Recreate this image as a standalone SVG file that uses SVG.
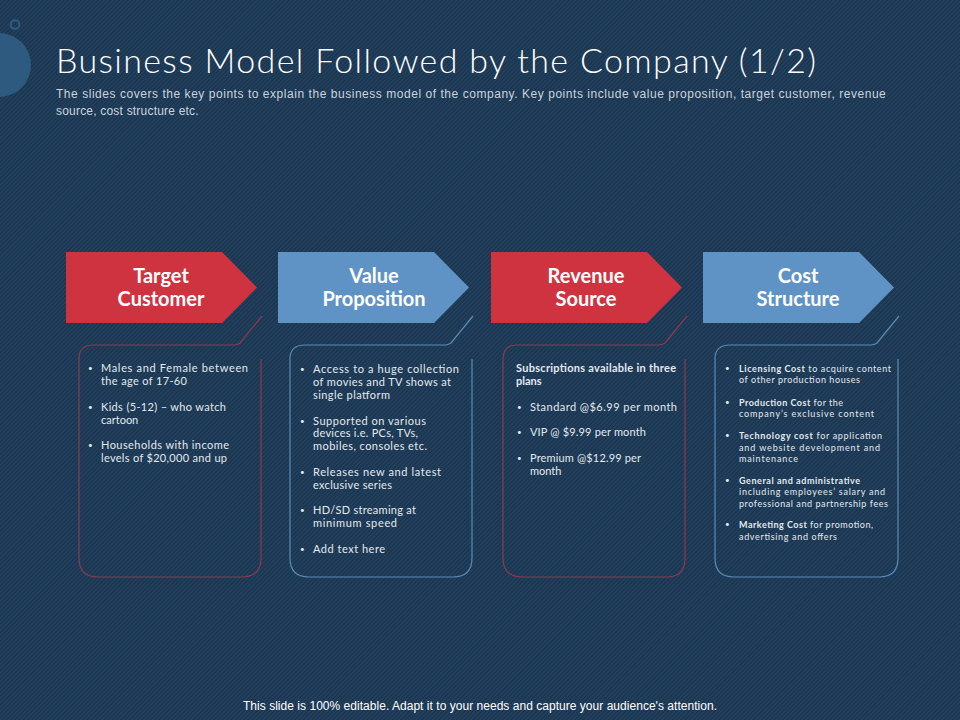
<svg xmlns="http://www.w3.org/2000/svg" width="960" height="720" viewBox="0 0 960 720">
<defs>
<pattern id="hatch" width="3" height="3" patternUnits="userSpaceOnUse" patternTransform="rotate(-45)">
<rect width="3" height="3" fill="#21405e"/>
<rect width="3" height="1" fill="#1a3149"/>
</pattern>
</defs>
<style>
text{font-family:"Lato","Liberation Sans",sans-serif;fill:#e3e9ee}
.t{font-size:34px;font-weight:300;fill:#fff}
.s{font-family:"Liberation Sans",Arial,sans-serif;font-size:12px;fill:#c9d3dc;letter-spacing:.2px}
.h{font-size:20px;font-weight:700;fill:#fff;text-anchor:middle}
.b{font-size:11px}
.c{font-size:9px}
.bold{font-weight:700}
.d{font-size:8px}
.red{fill:none;stroke:#8a3a50;stroke-width:1.2}
.blue{fill:none;stroke:#5a8ab8;stroke-width:1.2}
.f{font-family:"Liberation Sans",Arial,sans-serif;font-size:12px;fill:#fff}
</style>
<rect width="960" height="720" fill="url(#hatch)"/>
<circle cx="-1" cy="65" r="32" fill="#2e5a80"/>
<circle cx="15" cy="24.500" r="4.300" fill="none" stroke="#2e5a80" stroke-width="2.200"/>
<text class="t" x="56" y="73" textLength="760">Business Model Followed by the Company (1/2)</text>
<text class="s" x="56" y="98" textLength="830">The slides covers the key points to explain the business model of the company. Key points include value proposition, target customer, revenue</text>
<text class="s" x="56" y="115">source, cost structure etc.</text>
<g id="connectors">
<path class="red" d="M262 316L240 343Q237 345 234 345H93Q79 345 79 359V558Q79 577 98 577H242Q261 577 261 558V359"/>
<path class="blue" d="M473 316L451 343Q448 345 445 345H305Q290 345 290 359V558Q290 577 309 577H453Q472 577 472 558V359"/>
<path class="red" d="M687 316L665 343Q662 345 659 345H517Q503 345 503 359V558Q503 577 522 577H667Q685 577 685 558V359"/>
<path class="blue" d="M899 316L877 343Q874 345 871 345H730Q715 345 715 359V558Q715 577 734 577H879Q898 577 898 558V359"/>
</g>
<g id="node-target">
<polygon points="66,252 222,252 257,287.500 222,323 66,323" fill="#d03340"/>
<text class="h"><tspan x="161" y="283">Target</tspan><tspan x="161" y="306">Customer</tspan></text>
<g class="b">
<text class="d" x="88" y="371">•</text><text x="101" y="372" textLength="147">Males and Female between</text><text x="101" y="385" textLength="86">the age of 17-60</text>
<text class="d" x="88" y="410">•</text><text x="101" y="411" textLength="125">Kids (5-12) – who watch</text><text x="101" y="424">cartoon</text>
<text class="d" x="88" y="448">•</text><text x="101" y="449" textLength="128">Households with income</text><text x="101" y="462" textLength="126">levels of $20,000 and up</text>
</g>
</g>
<g id="node-value">
<polygon points="278,252 434,252 469,287.500 434,323 278,323" fill="#5f93c6"/>
<text class="h"><tspan x="374" y="283">Value</tspan><tspan x="374" y="306">Proposition</tspan></text>
<g class="b">
<text class="d" x="300" y="372">•</text><text x="313" y="373" textLength="146">Access to a huge collection</text><text x="313" y="386" textLength="138">of movies and TV shows at</text><text x="313" y="399" textLength="77">single platform</text>
<text class="d" x="300" y="424">•</text><text x="313" y="425" textLength="113">Supported on various</text><text x="313" y="437" textLength="105">devices i.e. PCs, TVs,</text><text x="313" y="450" textLength="114">mobiles, consoles etc.</text>
<text class="d" x="300" y="475">•</text><text x="313" y="476" textLength="128">Releases new and latest</text><text x="313" y="489" textLength="79">exclusive series</text>
<text class="d" x="300" y="513">•</text><text x="313" y="514" textLength="103">HD/SD streaming at</text><text x="313" y="527" textLength="84">minimum speed</text>
<text class="d" x="300" y="552">•</text><text x="313" y="553" textLength="72">Add text here</text>
</g>
</g>
<g id="node-revenue">
<polygon points="491,252 647,252 682,287.500 647,323 491,323" fill="#d03340"/>
<text class="h"><tspan x="586" y="283">Revenue</tspan><tspan x="586" y="306">Source</tspan></text>
<g class="b">
<text class="bold" x="516" y="372" textLength="160">Subscriptions available in three</text><text class="bold" x="516" y="385">plans</text>
<text class="d" x="517" y="410">•</text><text x="530" y="411" textLength="147">Standard @$6.99 per month</text>
<text class="d" x="517" y="435">•</text><text x="530" y="436" textLength="116">VIP @ $9.99 per month</text>
<text class="d" x="517" y="461">•</text><text x="530" y="462" textLength="111">Premium @$12.99 per</text><text x="530" y="475">month</text>
</g>
</g>
<g id="node-cost">
<polygon points="703,252 859,252 894,287.500 859,323 703,323" fill="#5f93c6"/>
<text class="h"><tspan x="798" y="283">Cost</tspan><tspan x="798" y="306">Structure</tspan></text>
<g class="c">
<text class="d" x="725" y="371">•</text><text x="739" y="372" textLength="152"><tspan class="bold">Licensing Cost</tspan> to acquire content</text><text x="739" y="383" textLength="121">of other production houses</text>
<text class="d" x="725" y="405">•</text><text x="739" y="406" textLength="104"><tspan class="bold">Production Cost</tspan> for the</text><text x="739" y="417" textLength="135">company’s exclusive content</text>
<text class="d" x="725" y="438">•</text><text x="739" y="439" textLength="143"><tspan class="bold">Technology cost</tspan> for application</text><text x="739" y="451" textLength="141">and website development and</text><text x="739" y="462" textLength="59">maintenance</text>
<text class="d" x="725" y="483">•</text><text x="739" y="484" textLength="121" class="bold">General and administrative</text><text x="739" y="495" textLength="146">including employees’ salary and</text><text x="739" y="507" textLength="149">professional and partnership fees</text>
<text class="d" x="725" y="527">•</text><text x="739" y="528" textLength="134"><tspan class="bold">Marketing Cost</tspan> for promotion,</text><text x="739" y="540" textLength="98">advertising and offers</text>
</g>
</g>
<text class="f" x="243" y="710" textLength="474">This slide is 100% editable. Adapt it to your needs and capture your audience's attention.</text>
</svg>
